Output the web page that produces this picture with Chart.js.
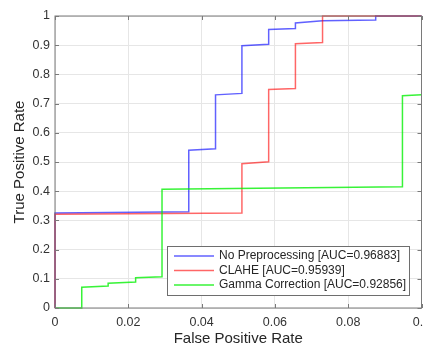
<!DOCTYPE html>
<html>
<head>
<meta charset="utf-8">
<script src="https://cdn.jsdelivr.net/npm/chart.js@4.4.1/dist/chart.umd.min.js"></script>
<style>
  html, body { margin: 0; padding: 0; background: #fff; }
  #wrap { width: 423px; height: 346px; }
</style>
</head>
<body>
<div id="wrap"><canvas id="roc" width="423" height="346"></canvas></div>
<script>
// ROC curves (FPR, TPR)
const noPrepFpr = [0, 0, 0.0365, 0.0365, 0.0438, 0.0438, 0.051, 0.051, 0.0583, 0.0583, 0.0656, 0.0656, 0.073, 0.0875, 0.0875, 0.1];
const noPrepTpr = [0, 0.325, 0.33, 0.54, 0.545, 0.73, 0.735, 0.898, 0.903, 0.954, 0.957, 0.976, 0.984, 0.986, 1, 1];

const claheFpr = [0, 0, 0.051, 0.051, 0.0583, 0.0583, 0.0656, 0.0656, 0.073, 0.073, 0.1];
const claheTpr = [0, 0.321, 0.325, 0.494, 0.501, 0.748, 0.752, 0.905, 0.909, 1, 1];

const gammaFpr = [0, 0.0073, 0.0073, 0.0145, 0.0145, 0.022, 0.022, 0.0292, 0.0292, 0.0948, 0.0948, 0.1];
const gammaTpr = [0, 0, 0.071, 0.075, 0.085, 0.089, 0.104, 0.107, 0.407, 0.415, 0.727, 0.73];

const seriesLabels = [
    'No Preprocessing [AUC=0.96883]',
    'CLAHE [AUC=0.95939]',
    'Gamma Correction [AUC=0.92856]',
];
const seriesColors = ['rgba(0,0,255,0.62)', 'rgba(255,0,0,0.6)', 'rgba(0,240,0,0.78)'];

const xTicks = [0, 0.02, 0.04, 0.06, 0.08, 0.1];
const yTicks = [0, 0.1, 0.2, 0.3, 0.4, 0.5, 0.6, 0.7, 0.8, 0.9, 1];

const FONT = 'Liberation Sans, Arial, sans-serif';
const AXIS = '#7a7a7a';

const toPts = (xs, ys) => xs.map((x, i) => ({ x, y: ys[i] }));
const fmt = v => String(Number(v.toFixed(2)));

// box round the axes + inward ticks + legend, drawn like MATLAB does
const boxPlugin = {
    id: 'box',
    afterDatasetsDraw(chart) {
        const { ctx, chartArea: a, scales: { x, y } } = chart;
        ctx.save();
        ctx.strokeStyle = AXIS;
        ctx.lineWidth = 1;
        ctx.strokeRect(a.left, a.top, a.right - a.left, a.bottom - a.top);
        ctx.beginPath();
        xTicks.forEach(v => {
            const px = Math.round(x.getPixelForValue(v)) + 0.5;
            ctx.moveTo(px, a.bottom); ctx.lineTo(px, a.bottom - 4);
            ctx.moveTo(px, a.top);    ctx.lineTo(px, a.top + 4);
        });
        yTicks.forEach(v => {
            const py = Math.round(y.getPixelForValue(v)) + 0.5;
            ctx.moveTo(a.left, py);  ctx.lineTo(a.left + 4, py);
            ctx.moveTo(a.right, py); ctx.lineTo(a.right - 4, py);
        });
        ctx.stroke();

        // legend
        const L = 167, T = 246, W = 242, H = 49;
        ctx.fillStyle = '#fff';
        ctx.fillRect(L, T, W, H);
        ctx.strokeStyle = '#6e6e6e';
        ctx.strokeRect(L + 0.5, T + 0.5, W, H);
        ctx.font = '12px ' + FONT;
        ctx.textBaseline = 'middle';
        ctx.fillStyle = '#262626';
        const rows = [256, 270.5, 285];
        seriesLabels.forEach((lab, i) => {
            ctx.strokeStyle = seriesColors[i];
            ctx.lineWidth = 1.5;
            ctx.beginPath();
            ctx.moveTo(174, rows[i]); ctx.lineTo(214, rows[i]);
            ctx.stroke();
            ctx.fillText(lab, 219, rows[i]);
        });
        ctx.restore();
    },
};

function makeDataset(label, xs, ys, color, order) {
    return {
        label,
        data: toPts(xs, ys),
        borderColor: color,
        backgroundColor: color,
        borderWidth: 1.5,
        showLine: true,
        pointRadius: 0,
        tension: 0,
        clip: 3,
        order,
    };
}

new Chart(document.getElementById('roc').getContext('2d'), {
    type: 'scatter',
    data: {
        datasets: [
            makeDataset(seriesLabels[0], noPrepFpr, noPrepTpr, seriesColors[0], 2),
            makeDataset(seriesLabels[1], claheFpr, claheTpr, seriesColors[1], 1),
            makeDataset(seriesLabels[2], gammaFpr, gammaTpr, seriesColors[2], 0),
        ],
    },
    options: {
        responsive: false,
        animation: false,
        events: [],
        layout: { autoPadding: false, padding: { top: 16, right: 1.5, left: 0, bottom: 0 } },
        plugins: { legend: { display: false }, tooltip: { enabled: false } },
        scales: {
            x: {
                type: 'linear',
                min: 0, max: 0.1,
                afterBuildTicks: s => { s.ticks = xTicks.map(value => ({ value })); },
                afterFit: s => { s.height = 38; s.paddingLeft = 0; s.paddingRight = 0; },
                grid: { color: '#e6e6e6', drawTicks: false },
                border: { display: false },
                ticks: { color: '#333', font: { family: FONT, size: 12.5 }, padding: 7, maxRotation: 0, callback: fmt },
                title: { display: true, text: 'False Positive Rate', color: '#262626',
                         font: { family: FONT, size: 15, lineHeight: 1 }, padding: { top: 0, bottom: 0 } },
            },
            y: {
                type: 'linear',
                min: 0, max: 1,
                afterBuildTicks: s => { s.ticks = yTicks.map(value => ({ value })); },
                afterFit: s => { s.width = 55; s.paddingTop = 0; s.paddingBottom = 0; },
                grid: { color: '#e6e6e6', drawTicks: false },
                border: { display: false },
                ticks: { color: '#333', font: { family: FONT, size: 12.5 }, padding: 5, callback: fmt },
                title: { display: true, text: 'True Positive Rate', color: '#262626',
                         font: { family: FONT, size: 15, lineHeight: 1 }, padding: { top: 12, bottom: 0 } },
            },
        },
    },
    plugins: [boxPlugin],
});
</script>
</body>
</html>
